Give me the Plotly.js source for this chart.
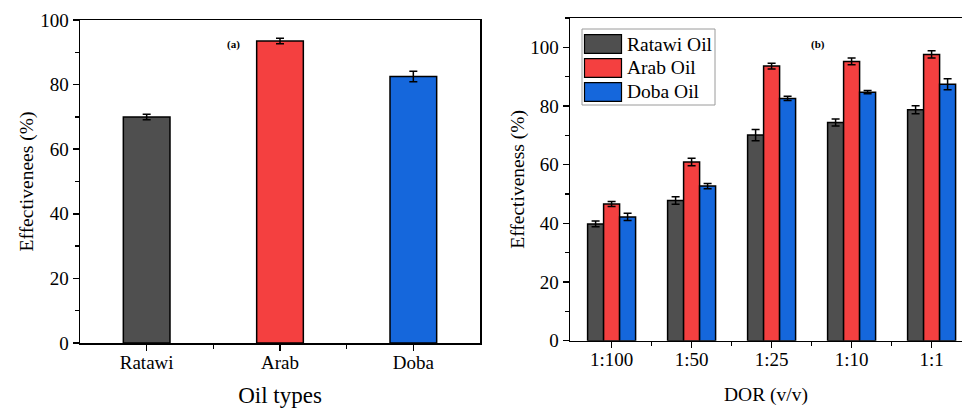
<!DOCTYPE html>
<html>
<head>
<meta charset="utf-8">
<script src="https://cdn.plot.ly/plotly-3.0.1.min.js"></script>
<style>html,body{margin:0;padding:0;background:#fff;}#chart{width:962px;height:408px;}</style>
</head>
<body>
<div id="chart"></div>
<script>
// ---- data ----
const oilTypes = ['Ratawi', 'Arab', 'Doba'];
const oilEff = [70.0, 93.5, 82.5];
const oilErr = [0.85, 0.85, 1.65];

const dorLabels = ['1:100', '1:50', '1:25', '1:10', '1:1'];
const seriesNames = ['Ratawi Oil', 'Arab Oil', 'Doba Oil'];
const ratawiEff = [39.8, 47.8, 70.1, 74.4, 78.7];
const ratawiErr = [1.0, 1.25, 1.9, 1.2, 1.35];
const arabEff = [46.6, 60.9, 93.6, 95.2, 97.6];
const arabErr = [0.85, 1.3, 1.0, 1.15, 1.2];
const dobaEff = [42.2, 52.7, 82.6, 84.7, 87.4];
const dobaErr = [1.25, 0.9, 0.75, 0.55, 1.9];

const colors = ['#4f4f4f', '#f44040', '#1567dc'];
const FONT = 'Liberation Serif, Times New Roman, serif';

const W = 962, H = 408;
const px = v => v / W;
const py = v => 1 - v / H;

const idxA = oilTypes.map((_, i) => i);
const idxB = dorLabels.map((_, i) => i);

const errStyle = arr => ({type: 'data', array: arr, visible: true, color: '#000', thickness: 1.5, width: 4});

const traces = [{
  type: 'bar', x: idxA, y: oilEff, width: 0.35,
  marker: {color: colors, line: {color: '#000', width: 1.5}},
  error_y: errStyle(oilErr), xaxis: 'x', yaxis: 'y', showlegend: false, name: 'Oil types'
}];
const seriesVals = [ratawiEff, arabEff, dobaEff];
const seriesErrs = [ratawiErr, arabErr, dobaErr];
seriesNames.forEach((n, k) => {
  traces.push({
    type: 'bar', name: n, x: idxB, y: seriesVals[k],
    marker: {color: colors[k], line: {color: '#000', width: 1.5}},
    error_y: errStyle(seriesErrs[k]), xaxis: 'x2', yaxis: 'y2', showlegend: false
  });
});

const axisCommon = {
  showline: true, linecolor: '#000', linewidth: 1.5, mirror: true,
  ticks: 'outside', ticklen: 6, tickwidth: 1.5, tickcolor: '#000',
  showgrid: false, zeroline: false, automargin: false,
  tickfont: {family: FONT, size: 19, color: '#000'}
};

// custom legend
const shapes = [{type: 'rect', xref: 'paper', yref: 'paper', x0: px(582), x1: px(715), y0: py(29), y1: py(105),
  line: {color: '#9a9a9a', width: 1}, fillcolor: '#fff', layer: 'above'}];
const annotations = [
  {xref: 'x', yref: 'y', x: 0.65, y: 92.3, text: '<b>(a)</b>', showarrow: false, font: {family: FONT, size: 11, color: '#000'}},
  {xref: 'x2', yref: 'y2', x: 2.58, y: 100.8, text: '<b>(b)</b>', showarrow: false, font: {family: FONT, size: 11, color: '#000'}}
];
seriesNames.forEach((n, k) => {
  const cy = 44 + k * 24;
  shapes.push({type: 'rect', xref: 'paper', yref: 'paper', x0: px(584.5), x1: px(621.5), y0: py(cy + 9.3), y1: py(cy - 9.3),
    line: {color: '#000', width: 1.2}, fillcolor: colors[k], layer: 'above'});
  annotations.push({xref: 'paper', yref: 'paper', x: px(625), y: py(cy), xanchor: 'left', yanchor: 'middle',
    text: n, showarrow: false, font: {family: FONT, size: 19.5, color: '#000'}});
});

const layout = {
  width: W, height: H, margin: {l: 0, r: 0, t: 0, b: 0},
  paper_bgcolor: '#fff', plot_bgcolor: '#fff',
  font: {family: FONT, color: '#000'},
  barmode: 'group', bargap: 0.4, bargroupgap: 0,
  showlegend: false,
  xaxis: Object.assign({}, axisCommon, {
    domain: [px(80), px(480)], range: [-0.5, 2.5],
    tickmode: 'array', tickvals: idxA, ticktext: oilTypes, ticklabelstandoff: -4,
    minor: {tickmode: 'array', tickvals: idxA.slice(1).map(i => i - 0.5), ticklen: 4, tickwidth: 1.5, tickcolor: '#000', ticks: 'outside'},
    title: {text: 'Oil types', font: {family: FONT, size: 23, color: '#000'}, standoff: 15}
  }),
  yaxis: Object.assign({}, axisCommon, {
    domain: [py(343), py(20)], range: [0, 100], dtick: 20,
    minor: {dtick: 10, ticklen: 4, tickwidth: 1.5, tickcolor: '#000', ticks: 'outside'},
    title: {text: 'Effectivenees (%)', font: {family: FONT, size: 19.5, color: '#000'}, standoff: 1}
  }),
  xaxis2: Object.assign({}, axisCommon, {
    anchor: 'y2', domain: [px(570), 1], range: [-0.52, 4.38],
    tickmode: 'array', tickvals: idxB, ticktext: dorLabels, ticklabelstandoff: -5,
    minor: {tickmode: 'array', tickvals: idxB.slice(1).map(i => i - 0.5), ticklen: 4, tickwidth: 1.5, tickcolor: '#000', ticks: 'outside'},
    title: {text: 'DOR (v/v)', font: {family: FONT, size: 19.5, color: '#000'}, standoff: 18}
  }),
  yaxis2: Object.assign({}, axisCommon, {
    anchor: 'x2', domain: [py(340.7), py(18)], range: [0, 110], dtick: 20,
    minor: {dtick: 10, ticklen: 4, tickwidth: 1.5, tickcolor: '#000', ticks: 'outside'},
    title: {text: 'Effectiveness (%)', font: {family: FONT, size: 19.5, color: '#000'}, standoff: 0}
  }),
  shapes: shapes,
  annotations: annotations
};

Plotly.newPlot('chart', traces, layout, {staticPlot: true, displayModeBar: false});
</script>
</body>
</html>
